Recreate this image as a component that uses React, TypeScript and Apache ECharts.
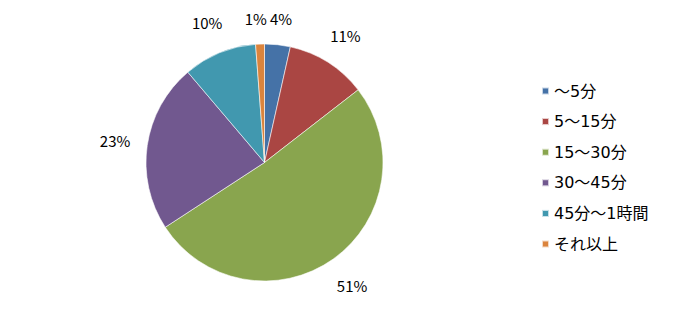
import React, { useEffect, useRef } from "react";
import * as echarts from "echarts";

const categories = ["〜5分", "5〜15分", "15〜30分", "30〜45分", "45分〜1時間", "それ以上"];
const shares = [3.5, 11, 51.3, 23, 10, 1.2];
const colors = ["#4572A7", "#AA4643", "#89A54E", "#71588F", "#4198AF", "#DB843D"];

const FONT = "'Noto Sans CJK JP', 'Noto Sans', sans-serif";
const LEGEND_FONT = "'DejaVu Sans', 'Noto Sans CJK JP', sans-serif";

export default function App() {
  const ref = useRef<HTMLDivElement>(null);
  useEffect(() => {
    if (!ref.current) return;
    const chart = echarts.init(ref.current, undefined, { renderer: "svg" });
    const data = categories.map((name, i) => ({ name, value: shares[i] }));
    chart.setOption({
      animation: false,
      color: colors,
      legend: {
        orient: "vertical",
        left: 536,
        top: 78,
        itemWidth: 7,
        itemHeight: 7,
        itemGap: 14.6,
        icon: "rect",
        data: categories,
        textStyle: { fontFamily: LEGEND_FONT, fontSize: 16, lineHeight: 16, color: "#000" },
      },
      series: [
        {
          type: "pie",
          center: [264.5, 162.5],
          radius: [0, 118.5],
          startAngle: 90,
          clockwise: true,
          silent: true,
          label: { show: false },
          labelLine: { show: false },
          itemStyle: { borderColor: "rgba(255,255,255,0.7)", borderWidth: 0.8 },
          data,
        },
        {
          type: "pie",
          center: [264.5, 162.5],
          radius: [143, 153],
          startAngle: 90,
          clockwise: true,
          silent: true,
          legendHoverLink: false,
          percentPrecision: 0,
          itemStyle: { color: "rgba(0,0,0,0)" },
          label: {
            show: true,
            position: "inside",
            formatter: (p: any) => `${p.percent}%`,
            fontFamily: FONT,
            fontSize: 15,
            color: "#000",
          },
          labelLine: { show: false },
          labelLayout: (p: any) => {
            if (p.dataIndex === 0) return { dy: 6 };
            if (p.dataIndex === 5) return { dx: -3, dy: 7 };
            return {};
          },
          data,
        },
      ],
    });
    return () => chart.dispose();
  }, []);
  return (
    <div
      ref={ref}
      style={{ position: "fixed", left: 0, top: 0, width: 674, height: 325, background: "#fff" }}
    />
  );
}
